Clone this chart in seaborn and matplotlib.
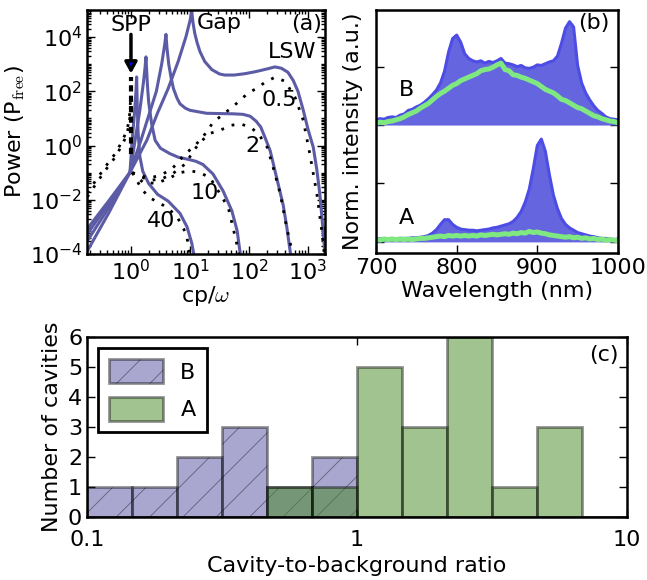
import numpy as np
import seaborn as sns
import matplotlib.pyplot as plt
from matplotlib.patches import Patch
from matplotlib.ticker import LogLocator, NullFormatter, LogFormatterMathtext, FixedLocator, NullLocator

# ---------------- panel (a): emitted power vs in-plane wavevector ----------------
# values are read off the picture as log10 exponents (x: cp/omega, y: P/Pfree)
s05_lx = [-0.74, -0.38, -0.017, 0.27, 0.45, 0.63, 0.8, 0.93, 1.0, 1.03, 1.05, 1.08, 1.12, 1.17, 1.25,
          1.37, 1.5, 1.59, 1.75, 1.93, 2.1, 2.22, 2.35, 2.44, 2.55, 2.66, 2.75, 2.83, 2.92, 3.0, 3.09,
          3.15, 3.2, 3.25, 3.3]
s05_ly = [-3.89, -2.5, -0.99, 0.2, 1.2, 2.1, 3.1, 4.0, 4.6, 4.94, 4.55, 4.15, 3.8, 3.46, 3.1,
          2.8, 2.64, 2.6, 2.6, 2.65, 2.72, 2.78, 2.85, 2.9, 2.85, 2.7, 2.4, 2.0, 1.3, 0.6, -0.07,
          -0.9, -1.78, -3.0, -4.3]
s2_lx = [-0.74, -0.38, -0.017, 0.17, 0.3, 0.43, 0.52, 0.57, 0.593, 0.61, 0.64, 0.68, 0.72, 0.78, 0.83,
         0.92, 1.0, 1.28, 1.5, 1.73, 1.9, 2.02, 2.12, 2.2, 2.28, 2.36, 2.47, 2.58, 2.64, 2.69, 2.72]
s2_ly = [-3.52, -2.3, -0.99, 0.2, 1.1, 2.0, 3.0, 3.7, 4.1, 3.6, 3.0, 2.5, 2.1, 1.75, 1.54,
         1.38, 1.3, 1.19, 1.18, 1.17, 1.15, 1.08, 0.9, 0.68, 0.25, -0.2, -1.2, -2.2, -3.0, -3.78, -4.3]
s10_lx = [-0.74, -0.38, -0.017, 0.07, 0.15, 0.21, 0.24, 0.254, 0.265, 0.28, 0.3, 0.35, 0.41, 0.5, 0.66,
          0.8, 0.95, 1.1, 1.22, 1.39, 1.56, 1.71, 1.8, 1.87]
s10_ly = [-3.26, -2.15, -0.99, 0.2, 1.3, 2.3, 2.9, 3.27, 2.8, 2.2, 1.6, 0.8, 0.19, -0.1, -0.3,
          -0.43, -0.5, -0.58, -0.7, -1.05, -1.67, -2.41, -3.15, -4.3]
s40_lx = [-0.74, -0.38, -0.017, 0.02, 0.06, 0.085, 0.096, 0.105, 0.12, 0.15, 0.2, 0.3, 0.45, 0.63,
          0.83, 0.95, 1.03, 1.09]
s40_ly = [-3.07, -2.05, -0.99, 0.2, 1.2, 2.0, 2.53, 1.6, 0.5, -0.4, -0.95, -1.4, -1.8, -2.05,
          -2.5, -3.0, -3.6, -4.3]

d05_lx = [0.02, 0.3, 0.5, 0.7, 0.92, 1.06, 1.23, 1.39, 1.56, 1.71, 1.85, 1.98, 2.13, 2.27, 2.44,
          2.61, 2.78, 2.92, 3.03, 3.15, 3.24, 3.29]
d05_ly = [-1.0, -1.2, -1.1, -0.85, -0.3, -0.06, 0.35, 0.85, 1.15, 1.4, 1.67, 1.93, 2.11, 2.33, 2.52,
          2.37, 1.78, 0.93, -0.3, -1.78, -3.26, -4.3]
d2_lx = [0.02, 0.3, 0.5, 0.7, 0.92, 1.06, 1.17, 1.34, 1.51, 1.68, 1.85, 2.02, 2.16, 2.31, 2.41,
         2.53, 2.64, 2.73, 2.76]
d2_ly = [-1.0, -1.28, -1.25, -1.05, -0.68, -0.2, 0.12, 0.45, 0.56, 0.74, 0.8, 0.68, 0.44, -0.07,
         -0.81, -1.78, -3.04, -3.9, -4.3]
d10_lx = [0.02, 0.2, 0.43, 0.66, 0.83, 1.0, 1.17, 1.34, 1.51, 1.65, 1.73, 1.81, 1.85]
d10_ly = [-1.0, -1.35, -1.4, -1.19, -1.0, -0.93, -1.0, -1.19, -1.78, -2.3, -3.04, -3.78, -4.3]
d40_lx = [0.02, 0.07, 0.18, 0.3, 0.46, 0.63, 0.8, 0.94, 1.02]
d40_ly = [-1.0, -1.17, -1.6, -1.9, -2.1, -2.3, -2.7, -3.27, -4.3]

spp1_lx = [-0.74, -0.61, -0.5, -0.38, -0.27, -0.19, -0.1, -0.05, -0.02, -0.005]
spp1_ly = [-1.75, -1.33, -0.99, -0.62, -0.31, 0.0, 0.4, 0.74, 1.2, 1.8]
spp2_lx = [-0.74, -0.61, -0.5, -0.38, -0.27, -0.19, -0.1, -0.05, -0.02, -0.005]
spp2_ly = [-1.9, -1.47, -1.12, -0.75, -0.44, -0.13, 0.25, 0.6, 1.0, 1.6]
spp_line_ly = [-0.3, 2.52]

distance_labels = ['0.5', '2', '10', '40']

# ---------------- panel (b): spectra of cavities A and B ----------------
wavelength = np.arange(700, 1001, 5)
B_cavity = [0.09, 0.11, 0.10, 0.13, 0.14, 0.13, 0.17, 0.19, 0.25, 0.27, 0.31, 0.34, 0.39, 0.45, 0.52,
            0.60, 0.72, 0.92, 1.25, 1.48, 1.54, 1.42, 1.22, 1.14, 1.10, 1.08, 1.10, 1.06, 1.09, 1.07,
            1.10, 1.14, 1.06, 1.05, 1.03, 1.00, 1.02, 0.98, 0.97, 0.99, 1.03, 1.02, 1.05, 1.08, 1.10,
            1.18, 1.40, 1.66, 1.77, 1.68, 1.02, 0.72, 0.55, 0.43, 0.33, 0.25, 0.20, 0.14, 0.11, 0.10,
            0.09]
B_background = [0.03, 0.05, 0.04, 0.06, 0.07, 0.09, 0.11, 0.14, 0.18, 0.21, 0.24, 0.29, 0.33, 0.37, 0.43,
                0.49, 0.54, 0.58, 0.63, 0.68, 0.71, 0.76, 0.79, 0.82, 0.85, 0.88, 0.93, 0.95, 0.96, 0.99,
                1.03, 1.06, 0.95, 0.93, 0.86, 0.85, 0.82, 0.80, 0.77, 0.74, 0.71, 0.66, 0.61, 0.58, 0.55,
                0.50, 0.44, 0.42, 0.38, 0.34, 0.30, 0.28, 0.24, 0.20, 0.16, 0.14, 0.11, 0.09, 0.07, 0.06,
                0.04]
A_cavity = [0.06, 0.05, 0.06, 0.05, 0.06, 0.05, 0.06, 0.06, 0.06, 0.07, 0.07, 0.08, 0.09, 0.11, 0.15,
            0.21, 0.30, 0.38, 0.38, 0.30, 0.25, 0.22, 0.21, 0.20, 0.20, 0.19, 0.20, 0.21, 0.22, 0.24,
            0.25, 0.27, 0.29, 0.31, 0.35, 0.42, 0.52, 0.68, 0.90, 1.25, 1.65, 1.76, 1.55, 1.15, 0.80,
            0.57, 0.40, 0.30, 0.24, 0.20, 0.16, 0.14, 0.12, 0.10, 0.09, 0.07, 0.06, 0.06, 0.05, 0.04,
            0.05]
A_background = [0.04, 0.03, 0.05, 0.04, 0.05, 0.04, 0.05, 0.04, 0.05, 0.04, 0.05, 0.06, 0.06, 0.07, 0.08,
                0.09, 0.10, 0.09, 0.11, 0.10, 0.11, 0.10, 0.11, 0.10, 0.11, 0.10, 0.12, 0.11, 0.12, 0.13,
                0.12, 0.13, 0.14, 0.13, 0.15, 0.14, 0.16, 0.15, 0.18, 0.16, 0.17, 0.15, 0.14, 0.12, 0.11,
                0.10, 0.09, 0.08, 0.09, 0.07, 0.08, 0.06, 0.07, 0.05, 0.06, 0.04, 0.05, 0.03, 0.04, 0.03,
                0.02]

# ---------------- panel (c): histogram of cavity-to-background ratio ----------------
bin_edges_log = list(np.linspace(-1, 1, 13))   # six bins per decade, 0.1 .. 10
ratio_B = [0.12, 0.18, 0.26, 0.38, 0.56, 0.83]
count_B = [1, 1, 2, 3, 1, 2]
ratio_A = [0.56, 0.83, 1.2, 1.8, 2.6, 3.8, 5.6]
count_A = [1, 1, 5, 3, 6, 1, 3]

# ---------------- style ----------------
sns.set_theme(style='ticks', rc={
    'xtick.direction': 'in', 'ytick.direction': 'in',
    'xtick.major.size': 6, 'ytick.major.size': 6,
    'xtick.minor.size': 3, 'ytick.minor.size': 3,
    'xtick.major.width': 1.0, 'ytick.major.width': 1.0,
    'axes.linewidth': 1.8, 'axes.edgecolor': 'black',
    'xtick.color': 'black', 'ytick.color': 'black',
    'axes.labelcolor': 'black', 'text.color': 'black',
    'hatch.linewidth': 0.6,
})
plt.rcParams['font.family'] = ['DejaVu Sans']
plt.rcParams['mathtext.fontset'] = 'cm'
plt.rcParams['axes.unicode_minus'] = False
FS = 16

purple = '#5c5ca6'
blue_line = '#4d4de6'
blue_fill = '#6565e0'
green = '#80e880'

fig = plt.figure(figsize=(6.47, 5.8), dpi=100)
ax_a = fig.add_axes([0.1345, 0.5621, 0.368, 0.4207])
ax_b = fig.add_axes([0.5811, 0.5638, 0.374, 0.419])
ax_c = fig.add_axes([0.1345, 0.1086, 0.8346, 0.3103])

# ---- (a) ----
for lx, ly in [(s05_lx, s05_ly), (s2_lx, s2_ly), (s10_lx, s10_ly), (s40_lx, s40_ly)]:
    sns.lineplot(x=10 ** np.array(lx), y=10 ** np.array(ly), ax=ax_a, color=purple, lw=2.2,
                 estimator=None, sort=False)
for lx, ly in [(d05_lx, d05_ly), (d2_lx, d2_ly), (d10_lx, d10_ly), (d40_lx, d40_ly),
               (spp1_lx, spp1_ly), (spp2_lx, spp2_ly)]:
    sns.lineplot(x=10 ** np.array(lx), y=10 ** np.array(ly), ax=ax_a, color='black', lw=2.0,
                 linestyle=(0, (1, 3)), estimator=None, sort=False)
sns.lineplot(x=[1, 1], y=10 ** np.array(spp_line_ly), ax=ax_a, color='black', lw=3,
             linestyle=(0, (1.5, 1)), estimator=None, sort=False)
ax_a.annotate('', xy=(1, 10 ** 2.55), xytext=(1, 10 ** 4.2),
              arrowprops=dict(arrowstyle='-|>,head_length=0.55,head_width=0.3', lw=2.5,
                              fc='blue', ec='black'))
ax_a.set_xscale('log')
ax_a.set_yscale('log')
ax_a.set_xlim(0.18, 1950)
ax_a.set_ylim(1e-4, 1e5)
ax_a.xaxis.set_major_locator(LogLocator(base=10, numticks=10))
ax_a.xaxis.set_minor_locator(LogLocator(base=10, subs=np.arange(2, 10), numticks=100))
ax_a.xaxis.set_minor_formatter(NullFormatter())
ax_a.yaxis.set_major_locator(LogLocator(base=100, numticks=10))
ax_a.yaxis.set_major_formatter(LogFormatterMathtext(base=10))
ax_a.yaxis.set_minor_locator(LogLocator(base=10, subs=np.arange(1, 10), numticks=100))
ax_a.yaxis.set_minor_formatter(NullFormatter())
ax_a.tick_params(which='both', top=True, right=True, labelsize=FS)
ax_a.set_xlabel(r'cp/$\omega$', fontsize=FS, labelpad=0)
ax_a.set_ylabel(r'Power (P$_{\rm free}$)', fontsize=FS, labelpad=2)

ax_a.text(1, 10 ** 4.44, 'SPP', fontsize=FS, ha='center', va='center')
ax_a.text(13, 10 ** 4.53, 'Gap', fontsize=FS, ha='left', va='center')
ax_a.text(1740, 10 ** 4.48, '(a)', fontsize=FS, ha='right', va='center')
ax_a.text(537, 10 ** 3.44, 'LSW', fontsize=FS, ha='center', va='center')
for lab, lx, ly in zip(distance_labels, [2.51, 2.05, 1.25, 0.51], [1.67, 0.0, -1.74, -2.78]):
    ax_a.text(10 ** lx, 10 ** ly, lab, fontsize=FS, ha='center', va='center')

# ---- (b) ----
B_off = 2
ax_b.fill_between(wavelength, B_off, B_off + np.array(B_cavity), color=blue_fill, lw=0)
sns.lineplot(x=wavelength, y=B_off + np.array(B_cavity), ax=ax_b, color=blue_line, lw=2.2,
             estimator=None)
sns.lineplot(x=wavelength, y=B_off + np.array(B_background), ax=ax_b, color=green, lw=3.6,
             estimator=None)
ax_b.fill_between(wavelength, 0, A_cavity, color=blue_fill, lw=0)
sns.lineplot(x=wavelength, y=A_cavity, ax=ax_b, color=blue_line, lw=2.2, estimator=None)
sns.lineplot(x=wavelength, y=A_background, ax=ax_b, color=green, lw=3.6, estimator=None)
ax_b.set_xlim(700, 1000)
ax_b.set_ylim(-0.19, 3.97)
ax_b.set_xticks([700, 800, 900, 1000])
ax_b.set_yticks([0, 1, 2, 3])
ax_b.set_yticklabels([])
ax_b.tick_params(which='both', top=False, right=True, labelsize=FS)
ax_b.set_xlabel('Wavelength (nm)', fontsize=FS, labelpad=2)
ax_b.set_ylabel('Norm. intensity (a.u.)', fontsize=FS, labelpad=6)
ax_b.text(738, 2.6, 'B', fontsize=FS, ha='center', va='center')
ax_b.text(738, 0.41, 'A', fontsize=FS, ha='center', va='center')
ax_b.text(990, 3.75, '(b)', fontsize=FS, ha='right', va='center')

# ---- (c) ----
edge = (0, 0, 0, 0.42)
sns.histplot(x=ratio_B, weights=count_B, bins=bin_edges_log, log_scale=True, ax=ax_c,
             color='#5551a1', alpha=0.5, edgecolor=edge, linewidth=2, hatch='/')
sns.histplot(x=ratio_A, weights=count_A, bins=bin_edges_log, log_scale=True, ax=ax_c,
             color='#438923', alpha=0.5, edgecolor=edge, linewidth=2)
ax_c.set_xlim(0.1, 10)
ax_c.set_ylim(0, 6)
ax_c.xaxis.set_major_locator(FixedLocator([0.1, 1, 10]))
ax_c.xaxis.set_minor_locator(NullLocator())
ax_c.set_xticklabels(['0.1', '1', '10'])
ax_c.set_yticks(range(7))
ax_c.tick_params(which='both', top=True, right=True, labelsize=FS)
ax_c.tick_params(axis='x', pad=9)
ax_c.set_xlabel('Cavity-to-background ratio', fontsize=FS, labelpad=5)
ax_c.set_ylabel('Number of cavities', fontsize=FS, labelpad=4)
ax_c.text(0.985, 0.9, '(c)', transform=ax_c.transAxes, fontsize=FS, ha='right', va='center')
handles = [Patch(facecolor=(0.333, 0.318, 0.631, 0.5), edgecolor=edge, lw=2, hatch='/'),
           Patch(facecolor=(0.263, 0.537, 0.137, 0.5), edgecolor=edge, lw=2)]
leg = ax_c.legend(handles, ['B', 'A'], loc='upper left', fontsize=FS, fancybox=False,
                  edgecolor='black', framealpha=1, handlelength=2.4, handleheight=1.3,
                  labelspacing=0.6, borderpad=0.5, handletextpad=0.8, borderaxespad=0.5)
leg.get_frame().set_linewidth(2)

fig.savefig('out.png', dpi=100)
